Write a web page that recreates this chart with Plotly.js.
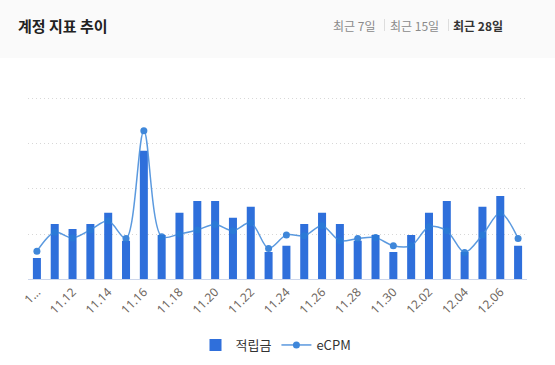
<!DOCTYPE html>
<html><head><meta charset="utf-8">
<script src="https://cdn.plot.ly/plotly-3.0.1.min.js"></script>
<style>html,body{margin:0;padding:0;background:#fff;}#chart{width:555px;height:365px;}</style>
</head><body><div id="chart"></div>
<script>
const dates = ['11.10','11.11','11.12','11.13','11.14','11.15','11.16','11.17','11.18','11.19','11.20','11.21','11.22','11.23','11.24','11.25','11.26','11.27','11.28','11.29','11.30','12.01','12.02','12.03','12.04','12.05','12.06','12.07'];
const reward = [0.47,1.22,1.11,1.22,1.47,0.85,2.84,0.98,1.47,1.73,1.73,1.36,1.60,0.60,0.74,1.22,1.47,1.22,0.85,0.98,0.60,0.98,1.47,1.73,0.60,1.60,1.84,0.74];
const ecpm = [0.62,1.04,0.91,1.09,1.29,0.90,3.28,0.94,1.00,1.09,1.21,1.07,1.25,0.68,0.98,0.96,1.18,0.85,0.90,0.92,0.74,0.74,1.16,1.07,0.59,0.98,1.47,0.90];
const tickVals = ['11.10','11.12','11.14','11.16','11.18','11.20','11.22','11.24','11.26','11.28','11.30','12.02','12.04','12.06'];
const tickText = ['1…','11.12','11.14','11.16','11.18','11.20','11.22','11.24','11.26','11.28','11.30','12.02','12.04','12.06'];
const gridVals = [1,2,3,4];

const W=555,H=365;
const yTop=4.06, unitPx=45.3, base=279.3;
const fx=x=>x/W, fy=y=>(H-y)/H;

const traces = [
 {type:'bar', x:dates, y:reward, name:'적립금', width:0.45,
  marker:{color:'#2f6fdb'}},
 {type:'scatter', mode:'lines+markers', x:dates, y:ecpm, name:'eCPM', yaxis:'y2',
  line:{color:'#4a8fdc', width:1.5, shape:'spline', smoothing:0.9},
  marker:{color:'#2b7bd6', size:7}, opacity:0.9}
];
const font='"Noto Sans CJK KR","Noto Sans",sans-serif';
const layout = {
 width:W, height:H, margin:{l:0,r:0,t:0,b:0,autoexpand:false},
 paper_bgcolor:'rgba(0,0,0,0)', plot_bgcolor:'rgba(0,0,0,0)',
 font:{family:font, color:'#333'},
 xaxis:{type:'category', domain:[fx(28),fx(527)], range:[-0.5, dates.length-0.5], tickmode:'array', tickvals:tickVals, ticktext:tickText,
   tickangle:-45, tickfont:{size:12,color:'#6e6660',family:'"Noto Sans",sans-serif'}, automargin:false,
   showgrid:false, showline:true, linecolor:'#ccd6eb', linewidth:1, ticks:'', zeroline:false, fixedrange:true},
 yaxis:{range:[0,yTop], domain:[fy(base), fy(base-yTop*unitPx)], tickmode:'array', tickvals:gridVals, showticklabels:false, automargin:false,
   showgrid:true, gridcolor:'#d8d8d8', griddash:'1px,3px', gridwidth:1, zeroline:false, fixedrange:true},
 yaxis2:{range:[0,yTop], overlaying:'y', side:'right', showticklabels:false, showgrid:false, zeroline:false, fixedrange:true, automargin:false},
 legend:{orientation:'h', x:fx(276), xanchor:'center', y:fy(345), yanchor:'middle',
   font:{size:13,color:'#333',family:font}},
 showlegend:true,
 shapes:[{type:'rect', xref:'paper', yref:'paper', x0:0, x1:1, y0:fy(58), y1:1,
   fillcolor:'#fafafa', line:{width:0}, layer:'below'},
   {type:'line', xref:'paper', yref:'paper', x0:fx(384.5), x1:fx(384.5), y0:fy(19), y1:fy(31), line:{color:'#dddddd',width:1}},
   {type:'line', xref:'paper', yref:'paper', x0:fx(448.5), x1:fx(448.5), y0:fy(19), y1:fy(31), line:{color:'#dddddd',width:1}}],
 annotations:[
  {xref:'paper', yref:'paper', x:fx(16), y:fy(25), xanchor:'left', yanchor:'middle', showarrow:false,
   text:'<b>계정 지표 추이</b>', font:{size:15,color:'#222',family:font}},
  {xref:'paper', yref:'paper', x:fx(377), y:fy(25), xanchor:'right', yanchor:'middle', showarrow:false,
   text:'최근 7일', font:{size:12,color:'#8a8a8a',family:font}},
  {xref:'paper', yref:'paper', x:fx(441), y:fy(25), xanchor:'right', yanchor:'middle', showarrow:false,
   text:'최근 15일', font:{size:12,color:'#8a8a8a',family:font}},
  {xref:'paper', yref:'paper', x:fx(505), y:fy(25), xanchor:'right', yanchor:'middle', showarrow:false,
   text:'<b>최근 28일</b>', font:{size:12,color:'#333',family:font}}
 ]
};
Plotly.newPlot('chart', traces, layout, {displayModeBar:false, staticPlot:true});
</script></body></html>
